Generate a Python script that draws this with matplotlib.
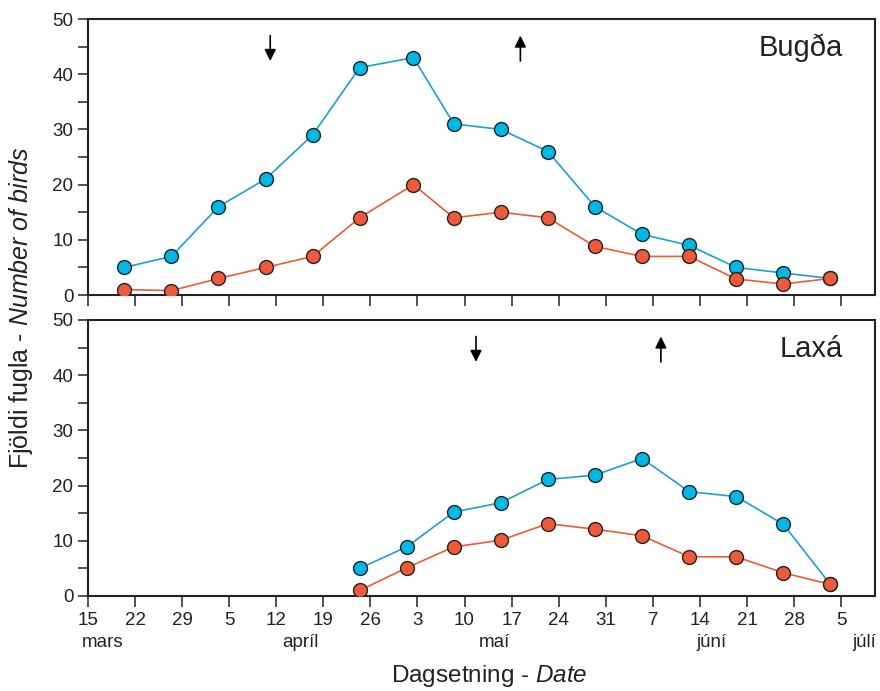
import matplotlib
matplotlib.use("Agg")
import matplotlib.pyplot as plt
import matplotlib.transforms as mtransforms

plt.rcParams['font.family'] = ['Liberation Sans', 'DejaVu Sans']
plt.rcParams['mathtext.fontset'] = 'custom'
plt.rcParams['mathtext.rm'] = 'Liberation Sans'
plt.rcParams['mathtext.it'] = 'Liberation Sans:italic'

# days counted from 15 March
tick_days = list(range(0, 113, 7))
tick_labels = ["15", "22", "29", "5", "12", "19", "26", "3", "10", "17",
               "24", "31", "7", "14", "21", "28", "5"]
months = ["mars", "apríl", "maí", "júní", "júlí"]

# Bugða
bug_days = [5.4, 12.4, 19.4, 26.4, 33.4, 40.4, 48.4, 54.4, 61.4, 68.4,
            75.4, 82.4, 89.4, 96.4, 103.4, 110.4]
bug_blue = [5, 7, 16, 21, 29, 41.2, 43, 31, 30, 26, 16, 11, 9, 5, 4, 3]
bug_red = [1, 0.8, 3, 5, 7, 14, 20, 14, 15, 14, 8.8, 7, 7, 2.9, 2, 3]
bug_arrows = [27.1, 64.3]   # down, up

# Laxá
lax_days = [40.4, 47.4, 54.4, 61.4, 68.4, 75.4, 82.4, 89.4, 96.4, 103.4, 110.4]
lax_blue = [5, 8.9, 15.2, 16.9, 21.1, 21.9, 24.9, 18.9, 18, 13, 2.1]
lax_red = [1, 5.1, 8.9, 10.1, 13.1, 12.1, 10.9, 7.1, 7.1, 4.2, 2.1]
lax_arrows = [57.7, 85.2]

BLUE_LINE = "#1b9fd8"
BLUE_FILL = "#00b8e6"
RED_LINE = "#f05a32"
RED_FILL = "#ee5a3a"

fig = plt.figure(figsize=(8.8, 6.91), dpi=100)
ax1 = fig.add_axes([0.1, 0.573, 0.894, 0.3995])
ax2 = fig.add_axes([0.1, 0.1375, 0.894, 0.3995])


def panel(ax, days, blue, red, arrows, name):
    ax.plot(days, blue, '-o', color=BLUE_LINE, lw=1.2, ms=10,
            mfc=BLUE_FILL, mec='#222222', mew=1.0, zorder=3)
    ax.plot(days, red, '-o', color=RED_LINE, lw=1.2, ms=10,
            mfc=RED_FILL, mec='#222222', mew=1.0, zorder=4)
    ax.set_xlim(0, 117)
    ax.set_ylim(0, 50)
    ax.set_yticks(range(0, 51, 10))
    ax.set_yticks(range(5, 50, 10), minor=True)
    ax.set_xticks(tick_days)
    ax.tick_params(axis='both', which='both', direction='out', length=8,
                   width=1.2, color='#333333', labelsize=13.5,
                   labelcolor='#222222')
    ax.tick_params(axis='y', which='both', length=7)
    for s in ax.spines.values():
        s.set_linewidth(1.5)
        s.set_color('#222222')
    # arrivals / departures
    ax.annotate("", xy=(arrows[0], 42.4), xytext=(arrows[0], 47.0),
                arrowprops=dict(arrowstyle='-|>', color='black', lw=1.2,
                                mutation_scale=17, shrinkA=0, shrinkB=0))
    ax.annotate("", xy=(arrows[1], 47.0), xytext=(arrows[1], 42.4),
                arrowprops=dict(arrowstyle='-|>', color='black', lw=1.2,
                                mutation_scale=17, shrinkA=0, shrinkB=0))
    ax.text(0.96, 0.895, name, transform=ax.transAxes, fontsize=21,
            ha='right', va='center', color='#222222')


panel(ax1, bug_days, bug_blue, bug_red, bug_arrows, "Bugða")
panel(ax2, lax_days, lax_blue, lax_red, lax_arrows, "Laxá")

ax1.set_xticklabels([])
ax2.set_xticklabels(tick_labels)

# month names under the day numbers
month_pos = [(0, 'left'), (31.6, 'center'), (60.4, 'center'),
             (92.8, 'center'), (115.4, 'center')]
trans = mtransforms.blended_transform_factory(ax2.transData, ax2.transAxes)
for m, (x, ha) in zip(months, month_pos):
    ax2.text(x - (0.9 if ha == 'left' else 0), -0.17, m, transform=trans,
             ha=ha, va='center', fontsize=13.5, color='#222222',
             clip_on=False)

fig.text(0.024, 0.555, "Fjöldi fugla - $\\it{Number\\ of\\ birds}$",
         rotation=90, ha='center', va='center', fontsize=18, color='#222222')
fig.text(0.556, 0.021, "Dagsetning - $\\it{Date}$", ha='center',
         va='center', fontsize=17.5, color='#222222')

fig.savefig("out.png", dpi=100)
